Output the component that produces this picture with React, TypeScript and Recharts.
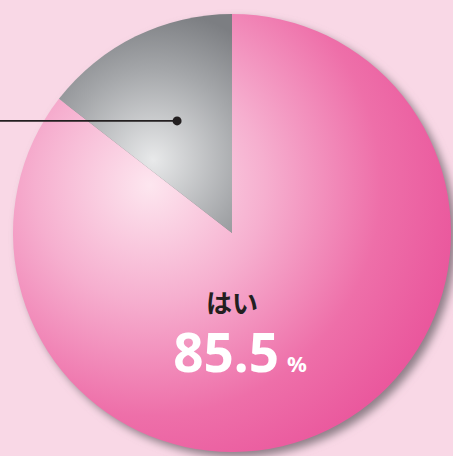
import { PieChart, Pie, Cell } from 'recharts';

const answers = ['はい', 'いいえ'];
const shares = [85.5, 14.5];
const data = answers.map((name, i) => ({ name, value: shares[i] }));
const shadowData = [{ name: 'shadow', value: 1 }];

const RADIAN = Math.PI / 180;

const renderLabel = (props: any) => {
  const { cx, cy, midAngle, outerRadius, index, payload } = props;
  if (index === 0) {
    const [whole, unit] = [String(payload.value), '%'];
    return (
      <g>
        <text x={cx} y={cy + 80} textAnchor="middle" fill="#231f20"
          style={{ fontFamily: '"Noto Sans CJK JP", sans-serif', fontWeight: 700, fontSize: 26 }}>
          {payload.name}
        </text>
        <text x={cx + 47} y={cy + 139} textAnchor="end" fill="#ffffff"
          style={{ fontFamily: '"Noto Sans", sans-serif', fontWeight: 700, fontSize: 53 }}>
          {whole}
        </text>
        <text x={cx + 55} y={cy + 139} textAnchor="start" fill="#ffffff"
          style={{ fontFamily: '"Noto Sans", sans-serif', fontWeight: 700, fontSize: 22 }}>
          {unit}
        </text>
      </g>
    );
  }
  const r = outerRadius * 0.57;
  const x = cx + r * Math.cos(-midAngle * RADIAN);
  const y = cy + r * Math.sin(-midAngle * RADIAN);
  return (
    <g>
      <line x1={0} y1={y} x2={x} y2={y} stroke="#231f20" strokeWidth={1.6} />
      <circle cx={x} cy={y} r={4.5} fill="#231f20" />
    </g>
  );
};

export default function App() {
  return (
    <div style={{ position: 'fixed', left: 0, top: 0, width: 453, height: 456, background: '#f9d8e6' }}>
      <PieChart width={453} height={456} margin={{ top: 0, right: 0, bottom: 0, left: 0 }}>
        <defs>
          <radialGradient id="pinkGrad" gradientUnits="userSpaceOnUse" cx={150} cy={185} r={330}>
            <stop offset="0%" stopColor="#fde6ef" />
            <stop offset="35%" stopColor="#f6afcf" />
            <stop offset="70%" stopColor="#ee6fa9" />
            <stop offset="100%" stopColor="#e9529a" />
          </radialGradient>
          <radialGradient id="grayGrad" gradientUnits="userSpaceOnUse" cx={153} cy={160} r={150}>
            <stop offset="0%" stopColor="#e8e9ea" />
            <stop offset="60%" stopColor="#a5a7aa" />
            <stop offset="100%" stopColor="#7c7e82" />
          </radialGradient>
          <filter id="blur" x="-20%" y="-20%" width="140%" height="140%">
            <feGaussianBlur stdDeviation="4" />
          </filter>
        </defs>
        <Pie
          data={shadowData}
          dataKey="value"
          cx={237}
          cy={238}
          outerRadius={219}
          stroke="none"
          fill="#8f7f88"
          style={{ filter: 'url(#blur)' }}
          isAnimationActive={false}
        />
        <Pie
          data={data}
          dataKey="value"
          cx={232}
          cy={233}
          outerRadius={219}
          startAngle={90}
          endAngle={-270}
          stroke="none"
          labelLine={false}
          label={renderLabel}
          isAnimationActive={false}
        >
          <Cell fill="url(#pinkGrad)" />
          <Cell fill="url(#grayGrad)" />
        </Pie>
      </PieChart>
    </div>
  );
}
